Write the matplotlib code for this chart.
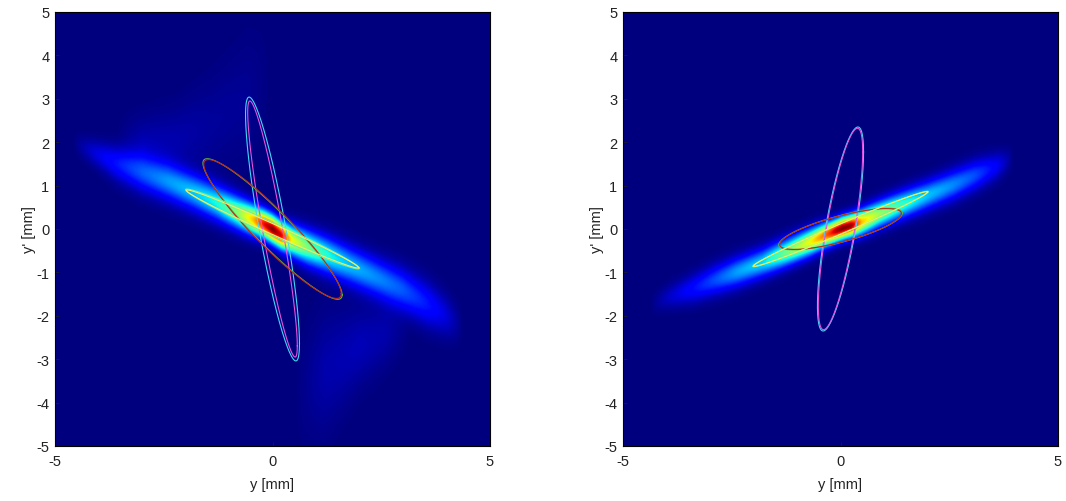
import numpy as np
import matplotlib
matplotlib.use('Agg')
import matplotlib.pyplot as plt

plt.rcParams['font.family'] = ['Liberation Sans', 'DejaVu Sans']
plt.rcParams['axes.unicode_minus'] = False

# Beam streak: position y, centre y', peak level, half width
left_y = [-4.6, -4.1, -3.6, -3.0, -2.4, -1.8, -1.3, -0.8, -0.45, -0.2, 0.0, 0.2, 0.45, 0.8, 1.3, 1.8, 2.4, 3.0, 3.6, 4.0, 4.4]
left_c = [2.0, 1.76, 1.52, 1.3, 1.1, 0.85, 0.62, 0.38, 0.22, 0.12, 0.0, -0.14, -0.26, -0.42, -0.62, -0.85, -1.12, -1.4, -1.75, -2.0, -2.25]
left_p = [0.0, 0.08, 0.14, 0.20, 0.27, 0.32, 0.38, 0.52, 0.70, 0.90, 1.0, 0.92, 0.64, 0.50, 0.38, 0.31, 0.26, 0.21, 0.14, 0.08, 0.0]
left_w = [0.16, 0.20, 0.26, 0.29, 0.29, 0.28, 0.27, 0.25, 0.23, 0.21, 0.21, 0.21, 0.23, 0.26, 0.28, 0.29, 0.30, 0.32, 0.34, 0.32, 0.28]

right_y = [-4.4, -3.9, -3.4, -2.9, -2.4, -1.8, -1.2, -0.7, -0.35, -0.1, 0.05, 0.25, 0.5, 0.9, 1.4, 2.0, 2.6, 3.1, 3.6, 4.0]
right_c = [-1.75, -1.55, -1.38, -1.18, -1.0, -0.78, -0.52, -0.3, -0.14, -0.04, 0.02, 0.08, 0.17, 0.35, 0.55, 0.78, 1.02, 1.24, 1.45, 1.65]
right_p = [0.0, 0.07, 0.13, 0.20, 0.28, 0.34, 0.50, 0.64, 0.80, 0.96, 1.0, 0.98, 0.70, 0.54, 0.42, 0.32, 0.26, 0.20, 0.11, 0.0]
right_w = [0.16, 0.19, 0.22, 0.23, 0.23, 0.22, 0.21, 0.20, 0.18, 0.17, 0.17, 0.17, 0.19, 0.20, 0.21, 0.22, 0.23, 0.23, 0.21, 0.17]

# Faint haze around the streak, same columns
haze_y = [-3.6, -3.0, -2.2, -1.4, -0.6, 0.0, 0.5, 1.2, 2.0, 2.6, 3.2]
haze_c = [2.0, 1.9, 2.05, 2.4, 3.0, 3.6, -3.8, -3.3, -2.7, -2.4, -2.2]
haze_p = [0.0, 0.045, 0.04, 0.025, 0.02, 0.0, 0.0, 0.04, 0.05, 0.04, 0.0]
haze_w = [0.4, 0.45, 0.5, 0.7, 0.9, 0.9, 0.9, 0.9, 0.6, 0.5, 0.4]

# Ellipses: max y, max y', y at the y' maximum
left_ell = {'c': (0.62, 3.04, -0.537), 'm': (0.57, 2.95, -0.52),
            'g': (1.60, 1.62, -1.50), 'r': (1.58, 1.60, -1.47),
            'lime': (2.0, 0.92, -1.97), 'y': (1.98, 0.90, -1.96)}
right_ell = {'c': (0.53, 2.35, 0.40), 'm': (0.51, 2.32, 0.39),
             'g': (1.42, 0.48, 1.08), 'r': (1.40, 0.47, 1.06),
             'lime': (2.02, 0.87, 2.0), 'y': (2.0, 0.86, 1.98)}

line_colors = {'c': '#40d8f8', 'm': '#e850e0', 'g': '#60b040', 'r': '#c02818',
               'lime': '#70f0a0', 'y': '#f0f060'}


def streak(Y, YP, ys, cs, ps, ws):
    c = np.interp(Y, ys, cs)
    p = np.interp(Y, ys, ps, left=0, right=0)
    w = np.interp(Y, ys, ws)
    return p * np.exp(-0.5 * ((YP - c) / w) ** 2)


def draw_panel(ax, stations, ellipses):
    grid = np.linspace(-5, 5, 400)
    Y, YP = np.meshgrid(grid, grid)
    img = streak(Y, YP, *stations)
    img = img + streak(Y, YP, haze_y, haze_c, haze_p, haze_w) * (stations[0] is left_y)
    ax.imshow(img, extent=[-5, 5, -5, 5], origin='lower', cmap='jet', vmin=0, vmax=1,
              aspect='auto', interpolation='bilinear')
    t = np.linspace(0, 2 * np.pi, 300)
    for name, (ymax, ypmax, ytip) in ellipses.items():
        t0 = np.arccos(ytip / ymax)
        ax.plot(ymax * np.cos(t), ypmax * np.cos(t - t0), color=line_colors[name], lw=0.8)
    ax.set_xlim(-5, 5)
    ax.set_ylim(-5, 5)
    ax.set_xticks([-5, 0, 5])
    ax.set_yticks(range(-5, 6))
    ax.tick_params(direction='in', length=3, width=0.5, labelsize=10.5, colors='#222222')
    ax.tick_params(axis='x', pad=6)
    ax.tick_params(axis='y', pad=4)
    ax.set_xlabel('y [mm]', fontsize=10.5, labelpad=6, color='#222222')
    ax.set_ylabel("y' [mm]", fontsize=10.5, labelpad=0, color='#222222')


fig = plt.figure(figsize=(10.66, 5.02), dpi=100)
ax1 = fig.add_axes([55 / 1066, 1 - 447 / 502, 435 / 1066, 434 / 502])
ax2 = fig.add_axes([623 / 1066, 1 - 447 / 502, 435 / 1066, 434 / 502])

draw_panel(ax1, (left_y, left_c, left_p, left_w), left_ell)
draw_panel(ax2, (right_y, right_c, right_p, right_w), right_ell)

fig.savefig('out.png', dpi=100)
